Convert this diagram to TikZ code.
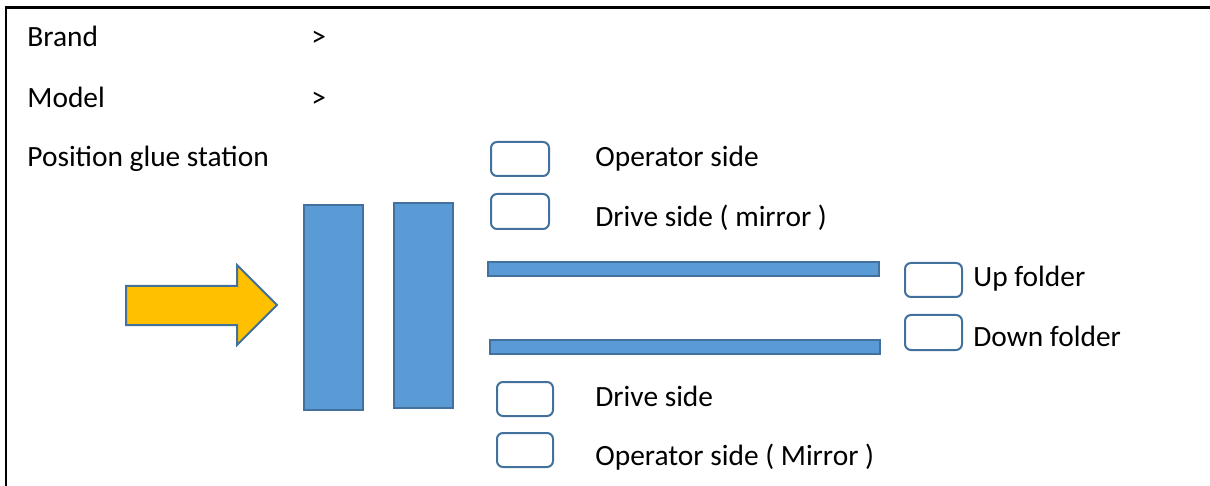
\documentclass[tikz,border=0pt]{standalone}
\usepackage{fontspec}
\setmainfont{Carlito}
\definecolor{fillblue}{HTML}{5B9BD5}
\definecolor{edgeblue}{HTML}{41719C}
\definecolor{gold}{HTML}{FFC000}
\begin{document}
\begin{tikzpicture}[x=0.5pt,y=-0.5pt,
  lbl/.style={anchor=base west,inner sep=0pt,font=\fontsize{14.7}{17}\selectfont},
  bar/.style={draw=edgeblue,fill=fillblue,line width=1pt},
  tickbox/.style={draw=edgeblue,fill=white,line width=1pt,rounded corners=3pt},
  arrowshape/.style={draw=edgeblue,fill=gold,line width=1pt,line join=miter}]
\useasboundingbox (0,0) rectangle (1210,486);
% frame (top and left edges only)
\begin{scope}
\clip (0,0) rectangle (1210,486);
\draw[line width=1.2pt] (6,490) -- (6,7.5) -- (1212,7.5);
\end{scope}
% header texts
\node[lbl] (brand) at (27,46.5) {Brand};
\node[lbl] (brandgt) at (311,46.5) {>};
\node[lbl] (model) at (27,107.3) {Model};
\node[lbl] (modelgt) at (311,107.3) {>};
\node[lbl] (pos) at (27,166.7) {Position glue station};
% arrow
\draw[arrowshape] (126,286) -- (237,286) -- (237,265) -- (277,305) -- (237,345) -- (237,325) -- (126,325) -- cycle;
% vertical bars
\draw[bar] (304,205) rectangle (363,410);
\draw[bar] (394,203) rectangle (453,408);
% horizontal bars
\draw[bar] (488,262) rectangle (879,276);
\draw[bar] (490,340) rectangle (880,354);
% option boxes
\draw[tickbox] (491,142) rectangle (549,176);
\draw[tickbox] (491,194) rectangle (549,229);
\draw[tickbox] (905,263) rectangle (962,297);
\draw[tickbox] (905,315) rectangle (962,350);
\draw[tickbox] (497,382) rectangle (553,416);
\draw[tickbox] (497,433) rectangle (553,467);
% option labels
\node[lbl] (opside) at (595,166.7) {Operator side};
\node[lbl] (drmirror) at (595,226.7) {Drive side ( mirror )};
\node[lbl] (up) at (973,286.7) {Up folder};
\node[lbl] (down) at (973,346.7) {Down folder};
\node[lbl] (drside) at (595,406) {Drive side};
\node[lbl] (opmirror) at (595,465) {Operator side ( Mirror )};
\end{tikzpicture}
\end{document}
